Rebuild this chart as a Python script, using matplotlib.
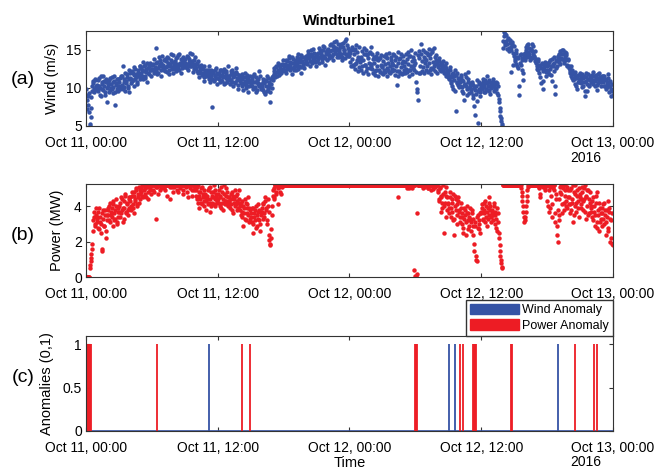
import numpy as np
import pandas as pd
import matplotlib
matplotlib.use("Agg")
import matplotlib.pyplot as plt
import matplotlib.dates as mdates
from matplotlib.patches import Patch

plt.rcParams['font.family'] = ['Liberation Sans', 'DejaVu Sans']
plt.rcParams['font.size'] = 10

BLUE = '#3553a5'
RED = '#ed1c24'

# ---- one row per hour, Oct 11 00:00 -> Oct 12 23:55 ----
# *_a: readings on the 5-minute mark, *_b: readings 2.5 minutes later
wind_a = [
    [9.8, 8.4, 7.7, 9.3, 5.3, 6.2, 8.8, 10.2, 10.9, 9.5, 11.2, 10.1],
    [10.4, 9.6, 11.3, 10.0, 8.9, 10.7, 9.9, 11.5, 10.3, 9.4, 10.8, 8.1],
    [10.2, 11.0, 9.7, 10.5, 11.4, 9.3, 10.1, 10.9, 7.8, 10.6, 9.8, 11.2],
    [10.7, 9.9, 11.6, 10.4, 12.8, 10.1, 11.1, 9.6, 10.9, 11.8, 10.3, 9.5],
    [11.3, 10.6, 12.2, 11.0, 11.7, 10.2, 12.5, 11.4, 10.8, 12.0, 11.6, 12.9],
    [11.9, 12.4, 11.1, 12.8, 11.5, 13.0, 12.1, 10.7, 12.6, 11.8, 13.2, 12.3],
    [12.5, 13.1, 11.9, 12.7, 15.2, 12.2, 13.4, 12.0, 12.9, 13.6, 11.6, 12.8],
    [13.0, 12.4, 13.8, 12.7, 14.1, 12.1, 13.3, 11.8, 12.9, 13.6, 12.5, 14.3],
    [12.8, 13.5, 12.2, 14.0, 13.1, 12.6, 14.4, 13.2, 11.9, 13.7, 12.9, 13.4],
    [13.3, 12.7, 14.2, 13.0, 12.4, 13.8, 14.6, 12.9, 13.5, 12.1, 13.1, 14.0],
    [12.6, 13.2, 11.9, 12.8, 11.4, 12.3, 13.0, 11.7, 12.5, 10.9, 12.1, 11.6],
    [11.8, 12.4, 11.2, 12.0, 10.8, 11.5, 7.5, 12.2, 11.0, 11.7, 12.6, 10.5],
    [11.3, 12.0, 10.7, 11.6, 12.3, 10.9, 11.4, 12.5, 10.6, 11.9, 11.1, 12.8],
    [11.2, 10.5, 11.8, 11.0, 12.4, 10.3, 11.5, 10.8, 12.1, 11.3, 9.9, 11.7],
    [10.9, 11.6, 10.2, 11.1, 9.7, 10.6, 12.0, 10.4, 11.3, 9.5, 10.8, 11.5],
    [10.6, 11.2, 9.9, 10.7, 11.8, 10.1, 9.4, 11.0, 10.5, 12.2, 10.3, 9.8],
    [10.3, 9.7, 11.1, 10.6, 9.2, 10.9, 11.5, 9.9, 10.4, 8.2, 11.2, 10.0],
    [11.0, 11.8, 12.6, 11.4, 12.9, 12.1, 13.3, 11.7, 12.5, 13.0, 12.2, 13.6],
    [12.4, 13.1, 12.8, 11.9, 13.5, 12.6, 14.2, 12.9, 13.3, 11.8, 13.8, 12.7],
    [13.0, 12.3, 13.7, 13.2, 14.5, 12.8, 13.4, 11.9, 14.0, 13.1, 12.6, 13.8],
    [13.6, 14.2, 13.1, 14.8, 13.9, 12.8, 14.4, 13.4, 15.1, 13.7, 14.1, 12.9],
    [14.0, 13.5, 14.6, 13.2, 15.0, 14.3, 13.8, 15.5, 14.1, 13.0, 14.7, 13.6],
    [14.5, 15.1, 13.9, 14.8, 15.8, 14.2, 13.7, 15.3, 14.6, 16.2, 14.0, 15.0],
    [14.8, 14.1, 15.4, 14.5, 13.6, 15.9, 14.9, 13.9, 16.4, 14.3, 15.2, 14.7],
    [14.2, 13.4, 15.0, 13.8, 12.9, 14.5, 13.1, 15.6, 13.6, 14.0, 12.7, 13.9],
    [13.5, 14.1, 12.8, 13.7, 15.2, 13.0, 14.4, 12.6, 13.9, 13.2, 14.7, 12.9],
    [13.1, 12.5, 13.8, 13.3, 12.2, 14.2, 12.9, 13.6, 12.4, 13.9, 13.0, 12.7],
    [12.8, 13.5, 12.3, 13.1, 14.0, 12.6, 13.3, 12.1, 12.9, 13.7, 12.5, 13.2],
    [13.0, 12.4, 13.6, 12.8, 10.4, 13.3, 12.2, 13.9, 12.7, 13.2, 12.0, 13.5],
    [12.9, 13.4, 12.5, 13.8, 13.1, 12.3, 14.2, 12.8, 13.5, 12.6, 13.0, 13.7],
    [13.3, 10.8, 9.4, 8.4, 13.9, 12.9, 15.8, 13.5, 12.7, 14.1, 13.2, 13.8],
    [13.6, 12.9, 14.3, 13.2, 13.9, 12.6, 14.7, 13.4, 12.8, 14.0, 13.1, 13.7],
    [13.4, 12.7, 13.9, 12.3, 13.0, 12.6, 13.5, 11.9, 12.8, 13.2, 11.6, 12.4],
    [12.0, 11.2, 12.7, 10.6, 11.8, 9.9, 11.5, 12.3, 6.9, 10.8, 11.9, 10.4],
    [11.1, 10.3, 11.7, 9.6, 10.9, 8.4, 10.5, 11.4, 9.9, 10.7, 12.1, 9.3],
    [10.2, 9.5, 10.8, 8.7, 10.0, 6.4, 9.2, 11.0, 5.4, 9.8, 10.5, 8.9],
    [10.5, 9.8, 11.2, 10.1, 9.4, 10.8, 11.5, 9.7, 10.3, 11.0, 9.2, 10.6],
    [10.4, 11.1, 9.6, 10.0, 10.7, 9.3, 10.2, 8.6, 7.4, 6.3, 5.6, 5.0],
    [16.2, 17.3, 15.6, 16.9, 15.1, 16.4, 14.8, 15.9, 12.1, 15.3, 16.0, 14.6],
    [14.2, 13.5, 14.9, 12.8, 13.9, 9.1, 13.3, 14.5, 12.4, 13.6, 11.0, 14.1],
    [14.6, 15.3, 14.0, 15.8, 14.4, 13.7, 15.1, 14.8, 13.9, 15.5, 14.2, 13.5],
    [13.2, 12.5, 13.8, 11.9, 12.8, 10.6, 13.1, 12.2, 9.8, 12.7, 13.4, 11.6],
    [12.4, 13.3, 11.8, 13.7, 12.9, 10.9, 13.1, 12.2, 14.0, 9.2, 12.6, 13.5],
    [14.1, 13.4, 14.8, 13.9, 15.0, 14.4, 13.2, 14.7, 13.7, 14.3, 12.9, 13.8],
    [12.9, 12.2, 11.6, 12.4, 11.0, 11.8, 10.5, 12.1, 11.3, 9.9, 11.7, 10.8],
    [11.2, 10.6, 11.8, 10.3, 11.5, 8.9, 10.9, 11.9, 9.6, 11.1, 10.4, 11.6],
    [11.4, 10.8, 12.1, 11.0, 10.3, 11.7, 9.7, 11.3, 10.6, 12.0, 11.1, 10.2],
    [10.9, 11.5, 10.2, 11.1, 9.8, 10.6, 11.8, 10.4, 9.4, 10.9, 8.9, 9.6],
]
wind_b = [
    [9.1, 7.2, 8.9, 6.8, 5.0, 7.4, 9.6, 10.6, 9.9, 11.0, 10.3, 9.7],
    [9.9, 11.0, 10.2, 9.1, 11.6, 10.5, 9.7, 10.9, 9.0, 11.1, 10.0, 10.6],
    [10.8, 9.5, 11.3, 10.0, 9.9, 10.7, 11.6, 9.4, 10.4, 11.1, 10.2, 9.6],
    [10.2, 11.3, 10.0, 11.5, 9.8, 10.8, 12.0, 10.6, 11.4, 10.0, 11.2, 12.3],
    [12.0, 11.2, 10.9, 11.9, 12.7, 11.1, 11.8, 10.5, 12.3, 11.5, 12.8, 11.2],
    [12.6, 11.6, 13.4, 12.2, 11.3, 12.5, 13.3, 11.9, 12.9, 12.4, 11.5, 13.0],
    [13.0, 12.3, 13.8, 12.4, 13.2, 11.8, 12.6, 14.0, 13.1, 12.3, 13.3, 14.2],
    [12.6, 13.6, 12.2, 13.5, 12.8, 13.9, 12.4, 13.1, 14.4, 12.7, 13.4, 12.0],
    [13.2, 12.5, 13.9, 12.9, 14.3, 12.4, 13.0, 13.8, 12.6, 14.1, 13.3, 12.7],
    [13.8, 13.1, 12.6, 14.1, 13.4, 12.9, 13.2, 14.5, 12.8, 13.6, 12.5, 12.9],
    [13.1, 12.2, 13.5, 12.1, 12.7, 11.9, 12.6, 12.0, 11.4, 12.8, 11.8, 12.4],
    [12.1, 11.5, 12.9, 11.8, 12.3, 11.1, 12.0, 10.9, 11.6, 12.4, 11.3, 11.9],
    [11.8, 11.2, 12.4, 11.0, 11.7, 12.1, 10.5, 11.6, 12.2, 11.3, 10.8, 11.5],
    [11.6, 11.0, 12.2, 10.7, 11.4, 11.9, 10.6, 12.6, 11.0, 11.8, 10.4, 11.2],
    [11.3, 10.6, 11.8, 10.5, 11.4, 10.9, 10.0, 11.7, 10.7, 11.1, 10.3, 10.9],
    [10.9, 10.3, 11.5, 10.0, 10.8, 11.4, 9.7, 10.6, 11.2, 10.2, 11.6, 10.5],
    [10.0, 10.8, 9.5, 11.0, 10.2, 9.6, 11.3, 10.1, 10.7, 9.4, 10.5, 11.4],
    [11.5, 12.2, 11.9, 12.7, 11.6, 12.4, 13.0, 12.0, 12.8, 11.9, 13.1, 12.5],
    [12.9, 12.2, 13.6, 12.5, 13.0, 13.9, 12.3, 13.4, 12.6, 14.0, 13.2, 12.4],
    [13.4, 12.8, 14.0, 12.5, 13.6, 13.9, 12.7, 14.3, 13.5, 12.9, 13.3, 14.1],
    [13.9, 13.3, 14.5, 14.0, 13.5, 14.9, 13.2, 14.2, 13.8, 14.6, 13.4, 14.3],
    [14.4, 13.8, 15.2, 14.0, 14.6, 13.4, 14.9, 14.2, 15.3, 13.9, 14.4, 15.0],
    [14.8, 14.3, 15.6, 14.1, 15.0, 15.5, 14.4, 16.0, 14.9, 15.2, 14.5, 15.7],
    [15.1, 14.4, 15.7, 14.0, 15.3, 14.6, 15.0, 16.1, 14.5, 15.6, 14.2, 14.9],
    [14.6, 12.8, 15.3, 13.0, 14.9, 12.5, 15.1, 13.2, 14.7, 12.2, 15.4, 13.4],
    [12.4, 14.8, 11.9, 14.5, 13.0, 15.0, 12.2, 14.3, 11.8, 14.6, 12.6, 15.3],
    [14.4, 12.0, 14.1, 11.7, 13.8, 12.3, 14.6, 11.6, 13.9, 12.1, 14.3, 11.9],
    [11.8, 14.2, 12.1, 14.5, 11.6, 13.9, 12.4, 14.6, 11.9, 14.0, 12.2, 14.4],
    [14.3, 11.7, 14.0, 12.2, 14.7, 11.5, 13.8, 12.0, 14.5, 11.8, 14.2, 12.3],
    [11.9, 14.4, 12.1, 14.7, 11.6, 14.2, 12.3, 14.9, 11.8, 14.1, 12.4, 14.6],
    [12.1, 9.9, 14.3, 12.0, 14.8, 11.9, 14.5, 12.2, 15.0, 12.0, 14.7, 12.4],
    [14.6, 12.1, 15.1, 12.3, 14.4, 11.8, 14.9, 12.5, 15.2, 12.2, 14.3, 12.0],
    [13.0, 13.5, 12.5, 13.2, 12.2, 13.1, 12.4, 12.9, 12.0, 12.6, 12.2, 11.4],
    [11.6, 12.3, 10.9, 11.4, 10.2, 12.0, 11.0, 9.6, 11.7, 10.6, 11.3, 10.1],
    [10.8, 11.4, 10.1, 11.0, 9.3, 10.4, 11.8, 10.2, 9.0, 11.1, 10.0, 10.6],
    [9.8, 10.5, 9.1, 10.4, 7.6, 9.7, 10.3, 8.3, 9.6, 10.7, 9.4, 10.1],
    [10.1, 10.7, 9.5, 10.4, 11.0, 9.9, 10.6, 10.2, 9.6, 10.8, 10.0, 10.3],
    [10.8, 10.2, 9.8, 10.5, 9.9, 10.6, 9.1, 8.1, 7.0, 6.0, 5.3, 15.2],
    [16.8, 15.9, 17.0, 16.1, 15.7, 16.6, 15.2, 16.3, 14.9, 15.8, 13.0, 15.5],
    [13.8, 14.6, 13.1, 14.0, 12.6, 10.2, 14.3, 13.0, 13.9, 12.0, 14.4, 13.7],
    [15.0, 14.3, 15.6, 14.7, 15.2, 14.1, 14.9, 15.7, 14.5, 14.0, 14.8, 13.8],
    [12.9, 13.5, 12.3, 13.0, 11.4, 12.6, 13.3, 10.9, 12.4, 13.0, 12.1, 12.8],
    [13.0, 12.1, 13.4, 12.5, 11.7, 13.8, 12.8, 13.2, 10.3, 13.6, 12.9, 14.2],
    [13.6, 14.4, 13.1, 14.5, 13.8, 14.9, 13.5, 14.1, 14.6, 13.0, 13.6, 12.6],
    [12.5, 11.9, 12.8, 11.3, 12.0, 11.1, 11.6, 10.3, 11.5, 10.7, 11.2, 11.9],
    [10.9, 11.5, 10.1, 11.3, 10.7, 9.6, 11.4, 10.5, 11.8, 10.2, 11.0, 10.8],
    [11.1, 11.7, 10.5, 11.5, 10.9, 11.2, 10.4, 11.8, 10.9, 11.4, 10.7, 11.6],
    [11.2, 10.7, 11.6, 10.3, 11.0, 10.1, 11.3, 10.8, 10.2, 9.9, 10.5, 9.1],
]

power_a = [
    [0.0, 0.0, 0.0, 0.0, 0.5, 0.9, 1.3, 1.9, 3.2, 3.7, 2.9, 3.5],
    [3.4, 2.8, 3.9, 3.1, 2.5, 3.6, 1.6, 3.3, 2.9, 3.8, 2.2, 3.5],
    [3.8, 3.2, 4.2, 3.5, 3.9, 2.9, 4.1, 3.6, 3.3, 4.4, 3.0, 3.7],
    [4.0, 3.4, 4.5, 3.8, 3.1, 4.3, 3.9, 4.7, 3.6, 4.1, 3.5, 4.4],
    [4.3, 3.8, 4.8, 4.1, 4.6, 3.6, 4.4, 5.0, 4.0, 4.7, 4.2, 4.9],
    [4.8, 5.2, 4.5, 5.2, 5.0, 4.7, 5.2, 5.1, 4.4, 5.2, 4.9, 5.2],
    [5.2, 5.2, 4.8, 5.2, 3.3, 5.2, 5.1, 5.2, 5.2, 4.9, 5.2, 5.2],
    [5.2, 5.0, 5.2, 5.2, 5.2, 4.6, 5.2, 5.2, 5.1, 5.2, 5.2, 4.8],
    [5.2, 5.2, 5.2, 4.9, 5.2, 5.2, 5.2, 5.0, 5.2, 5.2, 4.7, 5.2],
    [5.2, 5.1, 5.2, 5.2, 4.5, 5.2, 5.2, 5.2, 4.9, 5.2, 5.2, 5.0],
    [4.9, 4.4, 5.2, 4.6, 3.9, 4.8, 4.2, 5.1, 4.5, 4.0, 4.7, 4.3],
    [4.6, 4.1, 5.0, 4.4, 3.7, 4.8, 4.2, 4.5, 5.2, 4.0, 4.7, 4.3],
    [4.4, 4.9, 4.0, 4.6, 5.1, 4.2, 3.8, 4.7, 4.3, 5.0, 4.1, 4.5],
    [4.3, 3.9, 4.7, 4.1, 4.8, 3.6, 4.4, 4.0, 4.6, 3.8, 4.2, 4.9],
    [4.0, 3.5, 4.3, 3.7, 2.9, 3.9, 3.3, 4.2, 3.6, 4.5, 3.1, 3.8],
    [3.6, 3.1, 3.9, 2.5, 3.4, 3.8, 2.8, 3.5, 4.1, 3.2, 2.6, 3.7],
    [3.9, 3.3, 4.2, 3.6, 4.5, 3.8, 3.0, 4.0, 2.4, 1.9, 2.2, 3.5],
    [4.6, 5.0, 4.4, 5.2, 4.8, 5.2, 4.1, 5.1, 5.2, 4.7, 5.2, 5.2],
    [5.2, 5.21, 5.19, 5.2, 5.22, 5.2, 5.18, 5.2, 5.21, 5.2, 5.19, 5.2],
    [5.2, 5.2, 5.21, 5.19, 5.2, 5.2, 5.22, 5.2, 5.18, 5.2, 5.21, 5.2],
    [5.19, 5.2, 5.2, 5.21, 5.2, 5.18, 5.2, 5.22, 5.2, 5.2, 5.19, 5.21],
    [5.2, 5.22, 5.2, 5.19, 5.2, 5.21, 5.2, 5.2, 5.18, 5.2, 5.22, 5.2],
    [5.21, 5.2, 5.19, 5.2, 5.2, 5.22, 5.2, 5.18, 5.2, 5.21, 5.2, 5.2],
    [5.2, 5.2, 5.21, 5.2, 5.18, 5.2, 5.22, 5.2, 5.19, 5.2, 5.2, 5.21],
    [5.2, 5.19, 5.2, 5.22, 5.2, 5.2, 5.18, 5.21, 5.2, 5.2, 5.19, 5.2],
    [5.21, 5.2, 5.2, 5.18, 5.2, 5.22, 5.2, 5.2, 5.19, 5.21, 5.2, 5.2],
    [5.2, 5.2, 5.19, 5.2, 5.21, 5.2, 5.2, 5.22, 5.2, 5.18, 5.2, 5.21],
    [5.2, 5.21, 5.2, 5.2, 5.19, 5.2, 5.22, 5.2, 5.2, 5.18, 5.2, 5.2],
    [5.2, 5.2, 5.22, 5.19, 5.2, 4.5, 5.2, 5.21, 5.2, 5.2, 5.18, 5.2],
    [5.2, 5.19, 5.2, 5.2, 5.21, 5.0, 5.2, 5.1, 5.2, 5.2, 5.19, 0.4],
    [0.1, 0.0, 3.6, 5.2, 5.19, 5.2, 5.21, 5.2, 5.0, 5.2, 5.2, 5.18],
    [5.2, 5.2, 5.0, 5.21, 5.2, 4.9, 5.2, 5.2, 5.19, 5.2, 5.1, 5.2],
    [5.2, 4.8, 4.3, 5.0, 4.5, 3.9, 4.7, 2.5, 4.2, 5.1, 4.6, 3.8],
    [4.2, 3.6, 4.8, 3.9, 4.4, 3.2, 2.4, 4.6, 3.8, 4.1, 3.0, 4.5],
    [3.7, 3.1, 4.2, 3.4, 2.8, 3.9, 3.5, 2.4, 4.0, 3.2, 3.6, 2.9],
    [3.3, 2.6, 3.8, 2.9, 1.9, 3.1, 1.2, 0.9, 3.5, 2.7, 3.0, 3.6],
    [3.6, 4.1, 3.2, 3.8, 4.3, 3.4, 2.9, 3.9, 4.5, 3.5, 4.0, 3.1],
    [3.8, 3.2, 4.2, 3.5, 2.8, 3.9, 3.1, 2.5, 1.8, 1.2, 0.8, 0.5],
    [5.2, 5.21, 5.19, 5.2, 5.22, 5.2, 5.2, 5.18, 5.2, 5.21, 5.2, 5.19],
    [5.2, 5.2, 5.21, 5.2, 5.19, 5.2, 5.2, 5.2, 4.8, 4.3, 3.7, 3.1],
    [3.4, 4.0, 4.6, 5.1, 5.2, 5.2, 5.21, 5.2, 5.19, 5.2, 5.2, 5.2],
    [5.2, 5.2, 5.21, 5.0, 4.7, 5.2, 5.19, 5.1, 5.2, 5.2, 4.9, 5.2],
    [4.3, 5.2, 3.7, 5.1, 4.6, 3.4, 5.2, 5.2, 4.9, 3.1, 4.4, 2.4],
    [2.0, 3.5, 4.8, 5.2, 4.1, 5.0, 3.8, 4.6, 5.2, 4.3, 3.9, 4.9],
    [4.5, 3.6, 5.0, 4.2, 3.1, 4.8, 4.0, 5.2, 3.7, 4.6, 4.3, 3.4],
    [4.7, 4.1, 5.1, 3.8, 4.4, 5.2, 3.3, 4.6, 4.0, 4.9, 3.6, 4.2],
    [4.0, 3.4, 4.5, 3.7, 2.9, 4.2, 3.1, 4.8, 3.5, 2.6, 3.9, 3.3],
    [3.6, 4.1, 3.0, 3.8, 2.4, 3.4, 4.3, 2.8, 3.7, 2.0, 3.2, 1.9],
]
power_b = [
    [0.0, 0.0, 0.0, 0.0, 0.7, 1.1, 1.6, 2.6, 3.4, 3.0, 3.9, 3.3],
    [3.1, 3.7, 2.7, 3.4, 3.0, 1.5, 3.8, 2.9, 3.5, 2.6, 3.2, 3.9],
    [3.5, 4.0, 3.1, 3.7, 3.4, 4.3, 3.2, 3.8, 4.0, 3.1, 3.9, 3.4],
    [3.7, 4.2, 3.6, 4.4, 3.9, 3.3, 4.6, 3.7, 4.2, 3.8, 4.5, 3.9],
    [4.5, 4.0, 4.6, 3.9, 4.8, 4.3, 4.9, 4.1, 4.5, 5.1, 4.4, 4.7],
    [5.0, 4.6, 5.2, 4.9, 5.2, 4.5, 5.2, 4.8, 5.2, 5.0, 5.2, 4.7],
    [5.2, 4.9, 5.2, 5.2, 5.1, 5.2, 4.7, 5.2, 5.2, 5.2, 5.0, 5.2],
    [5.2, 5.2, 4.9, 5.2, 5.2, 5.2, 5.2, 4.4, 5.2, 5.1, 5.2, 5.2],
    [5.1, 5.2, 5.2, 5.2, 4.8, 5.2, 5.2, 5.2, 5.2, 4.9, 5.2, 5.2],
    [5.2, 5.2, 4.8, 5.2, 5.2, 5.0, 5.2, 4.6, 5.2, 5.2, 4.9, 5.1],
    [4.6, 5.1, 4.2, 4.8, 4.4, 5.0, 4.1, 4.7, 4.3, 4.9, 4.5, 3.8],
    [4.4, 4.9, 4.2, 5.1, 4.0, 4.6, 4.8, 4.1, 4.4, 4.9, 4.5, 4.2],
    [4.7, 4.2, 4.5, 3.9, 4.8, 4.4, 5.2, 4.1, 4.6, 4.3, 4.8, 4.0],
    [4.5, 4.1, 4.4, 3.8, 4.6, 4.2, 4.9, 4.1, 4.3, 4.7, 3.9, 4.4],
    [3.8, 4.2, 3.4, 4.0, 3.6, 4.4, 3.2, 3.9, 4.1, 3.5, 3.9, 3.3],
    [3.4, 3.9, 3.0, 3.6, 3.2, 4.0, 2.9, 3.7, 3.3, 3.8, 3.0, 3.5],
    [3.7, 4.1, 3.4, 4.3, 3.9, 3.2, 4.4, 3.7, 2.1, 1.8, 2.7, 4.0],
    [4.9, 4.5, 5.2, 4.7, 5.2, 5.0, 5.2, 4.8, 5.2, 5.2, 5.1, 5.2],
    [5.21, 5.2, 5.2, 5.18, 5.2, 5.21, 5.2, 5.19, 5.2, 5.22, 5.2, 5.2],
    [5.2, 5.19, 5.2, 5.21, 5.2, 5.2, 5.18, 5.2, 5.22, 5.2, 5.2, 5.19],
    [5.2, 5.21, 5.2, 5.2, 5.19, 5.2, 5.22, 5.2, 5.2, 5.18, 5.21, 5.2],
    [5.19, 5.2, 5.2, 5.21, 5.2, 5.2, 5.2, 5.18, 5.22, 5.2, 5.2, 5.19],
    [5.2, 5.2, 5.22, 5.2, 5.19, 5.2, 5.21, 5.2, 5.2, 5.18, 5.2, 5.21],
    [5.2, 5.18, 5.2, 5.21, 5.2, 5.2, 5.19, 5.2, 5.22, 5.2, 5.2, 5.2],
    [5.21, 5.2, 5.2, 5.2, 5.18, 5.2, 5.21, 5.2, 5.2, 5.19, 5.22, 5.2],
    [5.2, 5.2, 5.19, 5.21, 5.2, 5.2, 5.2, 5.18, 5.2, 5.21, 5.2, 5.22],
    [5.2, 5.22, 5.2, 5.2, 5.2, 5.19, 5.21, 5.2, 5.18, 5.2, 5.2, 5.2],
    [5.19, 5.2, 5.2, 5.21, 5.2, 5.2, 5.18, 5.2, 5.22, 5.2, 5.21, 5.2],
    [5.2, 5.21, 5.2, 5.18, 5.2, 5.2, 5.2, 5.19, 5.2, 5.22, 5.2, 5.2],
    [5.2, 5.2, 5.05, 5.2, 5.21, 5.2, 5.19, 5.2, 5.0, 5.2, 5.2, 5.2],
    [0.0, 0.2, 5.2, 5.21, 5.2, 5.2, 5.19, 5.2, 5.2, 5.1, 5.2, 5.2],
    [5.2, 5.05, 5.2, 5.2, 5.21, 5.2, 5.2, 4.95, 5.2, 5.2, 5.19, 5.2],
    [4.9, 4.4, 5.1, 3.7, 4.6, 4.2, 5.2, 4.0, 4.8, 3.4, 4.5, 4.1],
    [3.9, 4.5, 3.4, 4.2, 3.7, 4.7, 3.3, 4.0, 4.4, 3.5, 4.3, 3.8],
    [3.4, 3.9, 3.0, 3.6, 2.5, 3.3, 3.8, 3.1, 3.6, 2.7, 3.4, 3.9],
    [3.1, 3.6, 2.4, 3.3, 1.5, 2.9, 1.0, 3.4, 2.8, 3.2, 2.5, 3.7],
    [3.9, 3.3, 4.2, 3.6, 3.1, 4.0, 3.7, 3.3, 4.2, 3.8, 3.4, 3.6],
    [3.5, 4.0, 3.0, 3.7, 3.3, 2.6, 3.6, 2.2, 1.5, 1.0, 0.6, 5.2],
    [5.2, 5.2, 5.21, 5.2, 5.19, 5.2, 5.22, 5.2, 5.2, 5.18, 5.2, 5.21],
    [5.2, 5.21, 5.2, 5.2, 5.19, 5.2, 5.2, 5.0, 4.6, 4.0, 3.4, 3.2],
    [3.7, 4.3, 4.9, 5.2, 5.2, 5.19, 5.2, 5.2, 5.21, 5.2, 5.2, 5.19],
    [5.2, 5.19, 5.2, 5.1, 4.5, 5.2, 5.2, 5.2, 5.21, 5.0, 5.2, 5.2],
    [4.0, 5.2, 4.9, 3.9, 5.2, 4.1, 5.0, 5.2, 3.6, 4.7, 2.9, 3.8],
    [3.2, 4.4, 5.1, 4.7, 3.6, 5.2, 4.2, 4.9, 4.0, 5.1, 4.5, 4.1],
    [4.1, 4.9, 3.8, 4.4, 5.2, 3.5, 4.7, 4.2, 4.9, 3.9, 5.0, 4.5],
    [4.4, 3.9, 4.8, 4.3, 5.0, 3.7, 4.5, 4.9, 3.5, 4.4, 4.8, 3.9],
    [3.7, 4.3, 3.2, 4.0, 3.5, 4.6, 2.8, 3.8, 4.2, 3.1, 3.6, 2.9],
    [3.9, 3.3, 4.2, 3.5, 3.1, 3.8, 2.6, 3.9, 3.3, 2.2, 3.6, 1.8],
]

# flagged samples
wind_anomaly = ['2016-10-11 11:14', '2016-10-12 09:05', '2016-10-12 09:35',
                '2016-10-12 19:01']
power_anomaly = ['2016-10-11 00:00', '2016-10-11 00:05', '2016-10-11 00:10',
                 '2016-10-11 00:15', '2016-10-11 00:20', '2016-10-11 00:25',
                 '2016-10-11 06:26', '2016-10-11 14:13', '2016-10-11 14:55',
                 '2016-10-12 06:00', '2016-10-12 06:05', '2016-10-12 06:10',
                 '2016-10-12 10:04', '2016-10-12 10:20',
                 '2016-10-12 11:15', '2016-10-12 11:20', '2016-10-12 11:25',
                 '2016-10-12 11:30', '2016-10-12 14:42', '2016-10-12 14:46',
                 '2016-10-12 20:31', '2016-10-12 22:16', '2016-10-12 22:34']

# interleave the two reading sets into one 150 s series
wind_vals = np.column_stack((np.ravel(wind_a), np.ravel(wind_b))).ravel()
power_vals = np.column_stack((np.ravel(power_a), np.ravel(power_b))).ravel()
t = pd.date_range('2016-10-11 00:00', periods=len(wind_vals), freq='150s')
t_wind_an = pd.to_datetime(wind_anomaly)
t_power_an = pd.to_datetime(power_anomaly)

t0 = pd.Timestamp('2016-10-11 00:00')
t1 = pd.Timestamp('2016-10-13 00:00')

fig = plt.figure(figsize=(6.54, 4.70), dpi=100)
L, W = 0.1315, 0.8058
ax1 = fig.add_axes([L, 0.732, W, 0.2028])
ax2 = fig.add_axes([L, 0.410, W, 0.1985])
ax3 = fig.add_axes([L, 0.083, W, 0.2028])

for ax in (ax1, ax2, ax3):
    ax.set_xlim(t0, t1)
    ax.xaxis.set_major_locator(mdates.HourLocator(byhour=[0, 12]))
    ax.xaxis.set_major_formatter(mdates.DateFormatter('%b %d, %H:%M'))
    ax.tick_params(direction='in', top=True, right=True, length=3,
                   width=0.8, color='#333333')
    ax.tick_params(axis='x', pad=7)
    ax.tick_params(axis='y', pad=3)
    for s in ax.spines.values():
        s.set_linewidth(0.8)
        s.set_color('#333333')

# --- wind ---
ax1.plot(t, wind_vals, 'o', color=BLUE, ms=3.2, mew=0)
ax1.set_ylim(5, 17.5)
ax1.set_yticks([5, 10, 15])
ax1.set_ylabel('Wind (m/s)', fontsize=10.5)
ax1.yaxis.set_label_coords(-0.052, 0.5)
ax1.set_title('Windturbine1', fontweight='bold', fontsize=10.5, pad=4)

# --- power ---
ax2.plot(t, power_vals, 'o', color=RED, ms=3.2, mew=0)
ax2.set_ylim(0, 5.25)
ax2.set_yticks([0, 2, 4])
ax2.set_ylabel('Power (MW)', fontsize=10.5)
ax2.yaxis.set_label_coords(-0.041, 0.5)

# --- anomalies ---
ax3.axhline(0, color=BLUE, lw=1.2)
ax3.vlines(t_power_an, 0, 1, color=RED, lw=1.3)
ax3.vlines(t_wind_an, 0, 1, color=BLUE, lw=1.3)
ax3.set_ylim(0, 1.1)
ax3.set_yticks([0, 0.5, 1])
ax3.set_yticklabels(['0', '0.5', '1'])
ax3.set_ylabel('Anomalies (0,1)', fontsize=10.5)
ax3.yaxis.set_label_coords(-0.061, 0.5)
ax3.set_xlabel('Time', fontsize=10.5, labelpad=1)
ax3.legend(handles=[Patch(color=BLUE, label='Wind Anomaly'),
                    Patch(color=RED, label='Power Anomaly')],
           loc='lower right', bbox_to_anchor=(1.0, 1.0), borderaxespad=0,
           fontsize=9, fancybox=False, edgecolor='#333333', framealpha=1,
           handlelength=3.9, handleheight=0.9, handletextpad=0.3,
           borderpad=0.3, labelspacing=0.25)

fig.text(585.7 / 654, 1 - 158 / 470, '2016', ha='center', va='center')
fig.text(585.7 / 654, 1 - 462 / 470, '2016', ha='center', va='center')

for lab, y in (('(a)', 80), ('(b)', 235), ('(c)', 377)):
    fig.text(23 / 654, 1 - y / 470, lab, ha='center', va='center', fontsize=14)

fig.savefig('out.png', dpi=100)
